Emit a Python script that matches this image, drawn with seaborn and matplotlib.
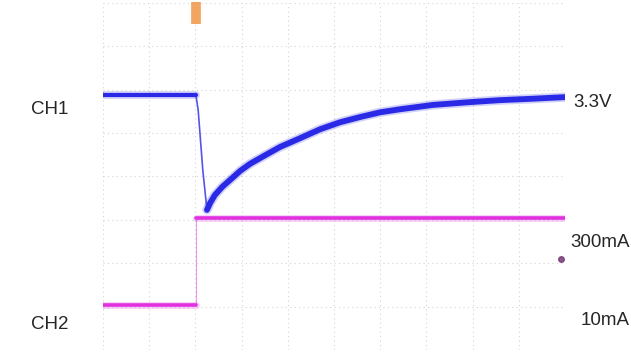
import numpy as np
import pandas as pd
import matplotlib.pyplot as plt
import seaborn as sns

# scope traces, in screen divisions (10 x 8 grid)
ch1_t = [0.00, 2.01, 2.06, 2.16, 2.25, 2.32, 2.42, 2.58, 2.75, 2.97, 3.18,
         3.51, 3.83, 4.26, 4.70, 5.13, 5.56, 6.00, 6.43, 7.14, 7.88, 8.59,
         9.24, 10.0]
ch1_v = [5.88, 5.88, 5.53, 4.15, 3.23, 3.39, 3.57, 3.76, 3.92, 4.13, 4.29,
         4.49, 4.68, 4.88, 5.09, 5.25, 5.37, 5.48, 5.55, 5.65, 5.71, 5.76,
         5.79, 5.83]

ch2_t = [0.00, 2.01, 2.01, 10.0]
ch2_i = [1.04, 1.04, 3.04, 3.04]

trigger_t = 2.01
right_labels = ["3.3V", "300mA", "10mA"]
right_pos = [5.70, 2.48, 0.68]
left_labels = ["CH1", "CH2"]
left_pos = [5.55, 0.58]

df1 = pd.DataFrame({"t": ch1_t, "v": ch1_v})
df2 = pd.DataFrame({"t": ch2_t, "v": ch2_i})

sns.set_style("white")
plt.rcParams['font.family'] = ['Liberation Sans', 'DejaVu Sans']

fig = plt.figure(figsize=(6.31, 3.52), dpi=100)
ax = fig.add_axes([103/631, 2/352, 462/631, 347/352])

blue = "#2a2ae6"
pink = "#e030e0"

kw = dict(x="t", y="v", ax=ax, sort=False, estimator=None)
# CH1: flat part, fast edge (thin), recovery
flat1, edge1, rec1 = df1.iloc[:2], df1.iloc[1:5], df1.iloc[4:]
for part, lw in [(flat1, 3.0), (rec1, 4.2)]:
    sns.lineplot(data=part, color=blue, lw=lw + 2.5, alpha=0.22, **kw)
    sns.lineplot(data=part, color=blue, lw=lw, **kw)
sns.lineplot(data=edge1, color=blue, lw=1.2, alpha=0.8, **kw)

# CH2: low level, step (thin), high level
sns.lineplot(data=df2.iloc[1:3], color=pink, lw=0.8, alpha=0.5, **kw)
for part in [df2.iloc[:2], df2.iloc[2:]]:
    sns.lineplot(data=part, color=pink, lw=5, alpha=0.22, **kw)
    sns.lineplot(data=part, color=pink, lw=2.6, **kw)

# trigger marker and ground marker
ax.plot([trigger_t], [7.78], marker="|", ms=16, mew=7, color="#f0903a", alpha=0.8, clip_on=False)
ax.plot([9.91], [2.10], marker="o", ms=4, color="#703070", alpha=0.8)

ax.set_xlim(0, 10)
ax.set_ylim(0, 8)
ax.set_xticks(np.arange(0, 11, 1))
ax.set_yticks(np.arange(0, 9, 1))
ax.grid(True, linestyle=(0, (1, 3)), color="#d4d4d4", lw=0.8)
ax.tick_params(length=0, labelbottom=False, labelleft=False)
ax.set_xlabel("")
ax.set_ylabel("")
for s in ax.spines.values():
    s.set_visible(False)

ax.text(10.17, right_pos[0], right_labels[0], fontsize=13.5, va="center", ha="left")
for lab, y in zip(right_labels[1:], right_pos[1:]):
    ax.text(11.4, y, lab, fontsize=13.5, va="center", ha="right")
for lab, y in zip(left_labels, left_pos):
    ax.text(-1.55, y, lab, fontsize=13.5, va="center", ha="left")

fig.savefig("out.png", dpi=100)
